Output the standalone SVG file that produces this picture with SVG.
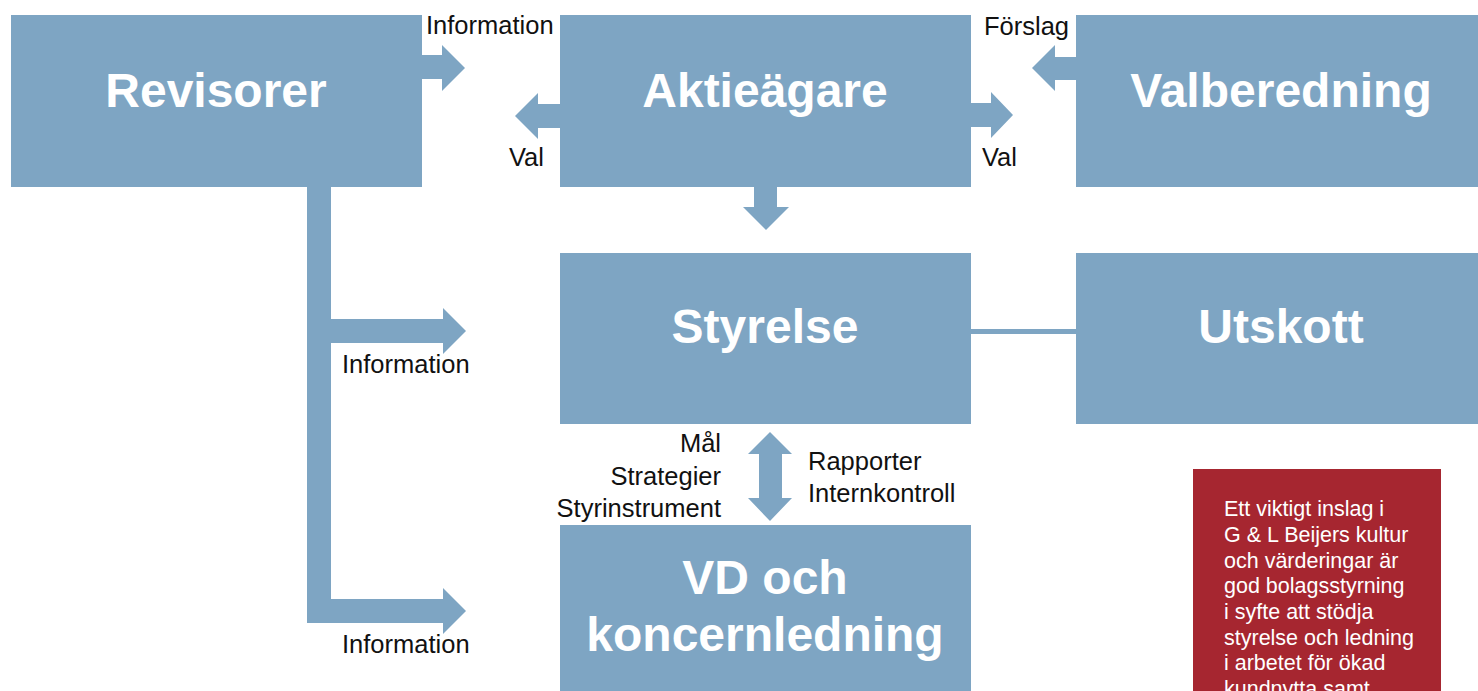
<svg xmlns="http://www.w3.org/2000/svg" width="1478" height="691" viewBox="0 0 1478 691">
<style>
.box{fill:#7EA5C3}
.arr{fill:#7EA5C3}
.title{font-family:"Liberation Sans",Arial,Helvetica,sans-serif;font-weight:bold;font-size:48px;fill:#ffffff;text-anchor:middle}
.lbl{font-family:"Liberation Sans",Arial,Helvetica,sans-serif;font-size:25.5px;fill:#111111}
.note{font-family:"Liberation Sans",Arial,Helvetica,sans-serif;font-size:21.5px;fill:#ffffff}
</style>
<rect width="1478" height="691" fill="#ffffff"/>
<g id="connectors">
<polygon class="arr" points="421,55 442,55 442,45 465,68 442,91 442,79 421,79"/>
<polygon class="arr" points="560,104 538,104 538,93 515,116 538,139 538,128 560,128"/>
<polygon class="arr" points="971,103 991,103 991,92 1013,115 991,138 991,127 971,127"/>
<polygon class="arr" points="1076,57 1055,57 1055,45 1032,68 1055,91 1055,80 1076,80"/>
<polygon class="arr" points="754,186 777,186 777,207 789,207 766,230 743,207 754,207"/>
<polygon class="arr" points="307,186 331,186 331,319 443,319 443,308 466,331 443,354 443,343 331,343 331,599 443,599 443,588 466,611 443,634 443,623 307,623"/>
<polygon class="arr" points="770,432 792,454 782,454 782,498 792,498 770,521 748,498 759,498 759,454 748,454"/>
<rect class="arr" x="971" y="329" width="105" height="5"/>
</g>
<g id="labels">
<text class="lbl" x="426" y="34">Information</text>
<text class="lbl" x="509" y="166">Val</text>
<text class="lbl" x="982" y="166">Val</text>
<text class="lbl" x="984" y="35">Förslag</text>
<text class="lbl" x="342" y="373">Information</text>
<text class="lbl" x="342" y="653">Information</text>
<text class="lbl" x="721" y="452" text-anchor="end">Mål</text>
<text class="lbl" x="721" y="485" text-anchor="end">Strategier</text>
<text class="lbl" x="721" y="517" text-anchor="end">Styrinstrument</text>
<text class="lbl" x="808" y="470">Rapporter</text>
<text class="lbl" x="808" y="502">Internkontroll</text>
</g>
<g id="revisorer">
<rect class="box" x="11" y="15" width="411" height="172"/>
<text class="title" x="216" y="107">Revisorer</text>
</g>
<g id="aktieagare">
<rect class="box" x="560" y="15" width="411" height="172"/>
<text class="title" x="765" y="107">Aktieägare</text>
</g>
<g id="valberedning">
<rect class="box" x="1076" y="15" width="402" height="172"/>
<text class="title" x="1281" y="107">Valberedning</text>
</g>
<g id="styrelse">
<rect class="box" x="560" y="253" width="411" height="171"/>
<text class="title" x="765" y="343">Styrelse</text>
</g>
<g id="utskott">
<rect class="box" x="1076" y="253" width="402" height="171"/>
<text class="title" x="1281" y="343">Utskott</text>
</g>
<g id="vd">
<rect class="box" x="560" y="525" width="411" height="166"/>
<text class="title" x="765" y="594">VD och</text>
<text class="title" x="765" y="651">koncernledning</text>
</g>
<g id="note">
<rect x="1193" y="469" width="248" height="222" fill="#A62630"/>
<text class="note" x="1224" y="516">Ett viktigt inslag i</text>
<text class="note" x="1224" y="542">G &amp; L Beijers kultur</text>
<text class="note" x="1224" y="568">och värderingar är</text>
<text class="note" x="1224" y="593">god bolagsstyrning</text>
<text class="note" x="1224" y="619">i syfte att stödja</text>
<text class="note" x="1224" y="645">styrelse och ledning</text>
<text class="note" x="1224" y="670">i arbetet för ökad</text>
<text class="note" x="1224" y="696">kundnytta samt</text>
</g>
</svg>
